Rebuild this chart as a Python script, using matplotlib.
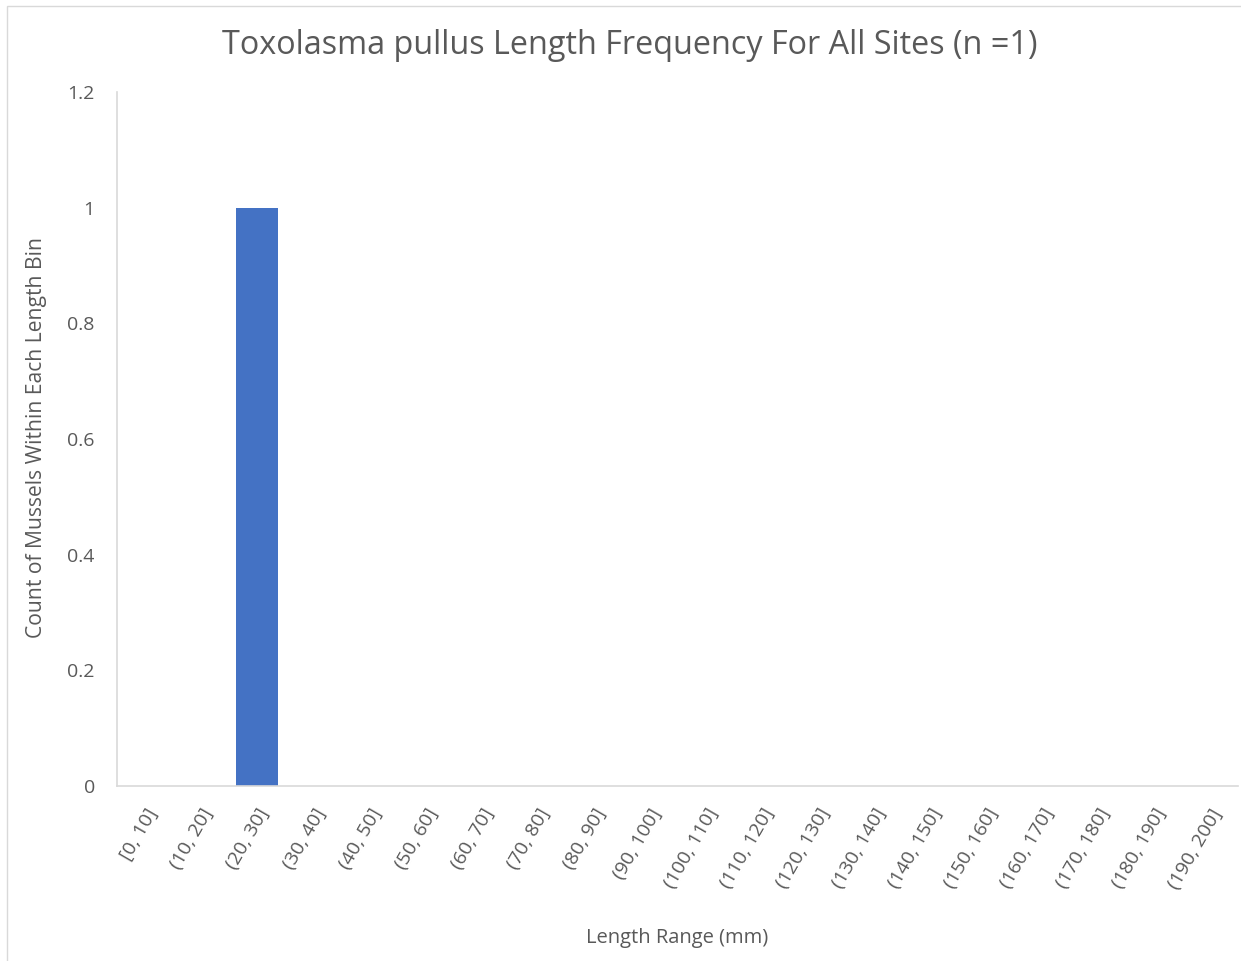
import matplotlib.pyplot as plt
from matplotlib.patches import Rectangle

bins = ['[0, 10]', '(10, 20]', '(20, 30]', '(30, 40]', '(40, 50]', '(50, 60]',
        '(60, 70]', '(70, 80]', '(80, 90]', '(90, 100]', '(100, 110]',
        '(110, 120]', '(120, 130]', '(130, 140]', '(140, 150]', '(150, 160]',
        '(160, 170]', '(170, 180]', '(180, 190]', '(190, 200]']
counts = [0, 0, 1, 0, 0, 0, 0, 0, 0, 0, 0, 0, 0, 0, 0, 0, 0, 0, 0, 0]

plt.rcParams['font.family'] = ['Open Sans', 'DejaVu Sans']
grey = '#595959'
axis_grey = '#d9d9d9'

W, H = 1241, 961
fig = plt.figure(figsize=(W / 100, H / 100), dpi=100)
ax = fig.add_axes([117 / W, 1 - 786 / H, (1238 - 117) / W, (786 - 92) / H])

x = range(len(bins))
ax.bar(x, counts, width=0.75, color='#4472c4')
ax.set_xlim(-0.5, len(bins) - 0.5)
ax.set_ylim(0, 1.2)
ax.set_yticks([0, 0.2, 0.4, 0.6, 0.8, 1.0, 1.2])
ax.set_yticklabels(['0', '0.2', '0.4', '0.6', '0.8', '1', '1.2'])
ax.set_xticks(list(x))
ax.set_xticklabels(bins, rotation=60, ha='right', rotation_mode='anchor')

for s in ['top', 'right']:
    ax.spines[s].set_visible(False)
for s in ['left', 'bottom']:
    ax.spines[s].set_color(axis_grey)
    ax.spines[s].set_linewidth(1.2)
ax.tick_params(axis='both', length=0, colors=grey, labelsize=14)
ax.tick_params(axis='y', pad=16)
ax.tick_params(axis='x', pad=14)

fig.text(0.5 * (220 + 1040) / W, 1 - 45 / H,
         'Toxolasma pullus Length Frequency For All Sites (n =1)',
         ha='center', va='center', fontsize=23.3, color=grey)
fig.text(37 / W, 1 - 438 / H, 'Count of Mussels Within Each Length Bin',
         rotation=90, ha='center', va='center', fontsize=15.2, color=grey)
fig.text(677 / W, 1 - 938 / H, 'Length Range (mm)',
         ha='center', va='center', fontsize=14.5, color=grey)

# thin frame around the chart area
fig.patches.append(Rectangle((7 / W, -0.01), 1.2, 1 - 6 / H + 0.01,
                             transform=fig.transFigure, fill=False,
                             edgecolor=axis_grey, linewidth=1))

fig.savefig('out.png', dpi=100)
